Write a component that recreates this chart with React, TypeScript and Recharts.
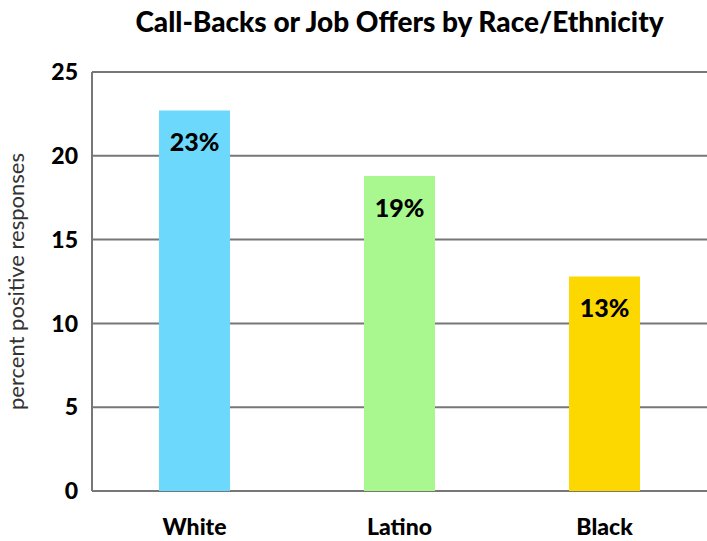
import React from "react";
import {
  BarChart,
  Bar,
  XAxis,
  YAxis,
  CartesianGrid,
  Cell,
  LabelList,
} from "recharts";

const categories = ["White", "Latino", "Black"];
const values = [22.7, 18.8, 12.8];
const valueLabels = ["23%", "19%", "13%"];
const yTicks = [0, 5, 10, 15, 20, 25];

const COLORS = ["#6cd9fc", "#a9f78f", "#fcd700"];
const FONT = "Lato, 'Open Sans', sans-serif";

const data = categories.map((name, i) => ({
  name,
  value: values[i],
  label: valueLabels[i],
}));

// rotated axis title, centred on the plot height
const YTitle = (props: any) => {
  const vb = props.viewBox || {};
  const cy = vb.y + vb.height / 2;
  return (
    <text
      x={18}
      y={cy}
      transform={`rotate(-90, 18, ${cy})`}
      textAnchor="middle"
      dominantBaseline="middle"
      fontFamily={FONT}
      fontSize={22}
      fontWeight={400}
      fill="#333"
    >
      percent positive responses
    </text>
  );
};

export default function App() {
  return (
    <div
      style={{
        position: "absolute",
        left: 0,
        top: 0,
        width: 707,
        height: 541,
        background: "#fff",
      }}
    >
      <div
        style={{
          position: "absolute",
          top: 4,
          left: 92,
          width: 615,
          textAlign: "center",
          fontFamily: FONT,
          fontWeight: 900,
          fontSize: 28,
          color: "#000",
        }}
      >
        Call-Backs or Job Offers by Race/Ethnicity
      </div>
      <BarChart
        width={707}
        height={541}
        data={data}
        margin={{ top: 72, right: 0, bottom: 0, left: 0 }}
      >
        <CartesianGrid vertical={false} stroke="#777" strokeWidth={2} />
        <XAxis
          dataKey="name"
          height={50}
          axisLine={false}
          tickLine={false}
          tickMargin={22}
          tick={{
            fill: "#000",
            fontSize: 23,
            fontWeight: 900,
            fontFamily: FONT,
          }}
        />
        <YAxis
          width={92}
          domain={[0, 25]}
          ticks={yTicks}
          interval={0}
          axisLine={{ stroke: "#777", strokeWidth: 2 }}
          tickLine={false}
          tickMargin={8}
          tick={{
            fill: "#000",
            fontSize: 23,
            fontWeight: 900,
            fontFamily: FONT,
          }}
          label={{ content: <YTitle /> }}
        />
        <Bar dataKey="value" barSize={71} isAnimationActive={false}>
          {data.map((d, i) => (
            <Cell key={d.name} fill={COLORS[i]} />
          ))}
          <LabelList
            dataKey="label"
            position="insideTop"
            offset={23}
            fill="#000"
            fontSize={25}
            fontWeight={900}
            fontFamily={FONT}
          />
        </Bar>
      </BarChart>
    </div>
  );
}
